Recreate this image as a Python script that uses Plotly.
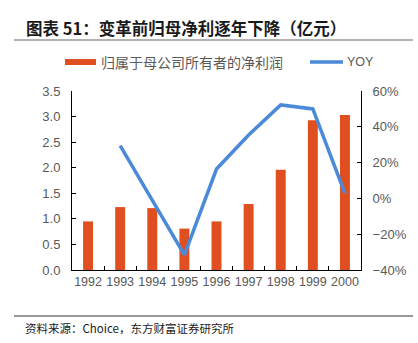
import plotly.graph_objects as go

years = ["1992", "1993", "1994", "1995", "1996", "1997", "1998", "1999", "2000"]
net_profit = [0.95, 1.23, 1.21, 0.81, 0.95, 1.29, 1.96, 2.93, 3.03]
yoy_years = ["1993", "1995", "1996", "1997", "1998", "1999", "2000"]
yoy_vals = [29.5, -31.6, 16.4, 35.4, 52.2, 50.0, 2.8]

bar_name = "归属于母公司所有者的净利润"
line_name = "YOY"
title = "图表 51：变革前归母净利逐年下降（亿元）"
source = "资料来源：Choice，东方财富证券研究所"

W, H = 418, 343
L, R, T, B = 72, 361, 91, 270
pw, ph = R - L, B - T

def px(x):
    return (x - L) / pw

def py(y):
    return (B - y) / ph

bar_color = "#E04F1F"
line_color = "#4A8AD8"
grey = "#595959"

fig = go.Figure()
fig.add_trace(go.Bar(x=years, y=net_profit, name=bar_name, marker_color=bar_color,
                     marker_line_width=0, width=0.31, showlegend=False))
fig.add_trace(go.Scatter(x=yoy_years, y=yoy_vals, name=line_name, yaxis="y2", mode="lines",
                         line=dict(color=line_color, width=3.5), showlegend=False))

fig.update_layout(
    width=W, height=H,
    margin=dict(l=L, r=W - R, t=T, b=H - B, pad=0),
    paper_bgcolor="white", plot_bgcolor="white",
    font=dict(family="Liberation Sans, Arial, sans-serif", color=grey, size=13),
    xaxis=dict(type="category", categoryorder="array", categoryarray=years,
               showline=True, linecolor="black", linewidth=1,
               ticks="inside", tickson="boundaries", ticklen=4, tickcolor="black",
               showgrid=False, tickangle=0, tickfont=dict(size=12.5, color=grey)),
    yaxis=dict(range=[0, 3.5], dtick=0.5, tickformat=".1f", showline=True, linecolor="black",
               linewidth=1, ticks="inside", ticklen=4, tickcolor="black", showgrid=False,
               zeroline=False, tickfont=dict(size=13, color=grey), ticklabelstandoff=8),
    yaxis2=dict(range=[-40, 60], dtick=20, ticksuffix="%", overlaying="y", side="right",
                showline=True, linecolor="black", linewidth=1, ticks="inside", ticklen=4,
                tickcolor="black", showgrid=False, zeroline=False,
                tickfont=dict(size=13, color=grey), ticklabelstandoff=8),
)

cjk = "Noto Sans CJK SC"
annotations = [
    dict(text="<b>" + title + "</b>", x=px(24), y=py(28), xanchor="left", yanchor="middle",
         font=dict(family=cjk, size=16.5, color="#1a1a1a")),
    dict(text=bar_name, x=px(99), y=py(62), xanchor="left", yanchor="middle",
         font=dict(family=cjk, size=14, color=grey)),
    dict(text=line_name, x=px(345), y=py(62), xanchor="left", yanchor="middle",
         font=dict(family="Liberation Sans, Arial", size=12.5, color=grey)),
    dict(text=source, x=px(23), y=py(328), xanchor="left", yanchor="middle",
         font=dict(family=cjk, size=11.5, color="#1a1a1a")),
]
for a in annotations:
    a.update(xref="paper", yref="paper", showarrow=False)
fig.update_layout(annotations=annotations)

shapes = [
    dict(type="line", x0=px(14), x1=px(413), y0=py(40), y1=py(40),
         line=dict(color="#999999", width=1.5)),
    dict(type="line", x0=px(14), x1=px(413), y0=py(316), y1=py(316),
         line=dict(color="#333333", width=1)),
    dict(type="rect", x0=px(65), x1=px(96), y0=py(65), y1=py(59),
         fillcolor=bar_color, line=dict(width=0)),
    dict(type="line", x0=px(310), x1=px(343), y0=py(62), y1=py(62),
         line=dict(color=line_color, width=3.5)),
]
for s in shapes:
    s.update(xref="paper", yref="paper")
fig.update_layout(shapes=shapes)

fig.write_html("out.html")
